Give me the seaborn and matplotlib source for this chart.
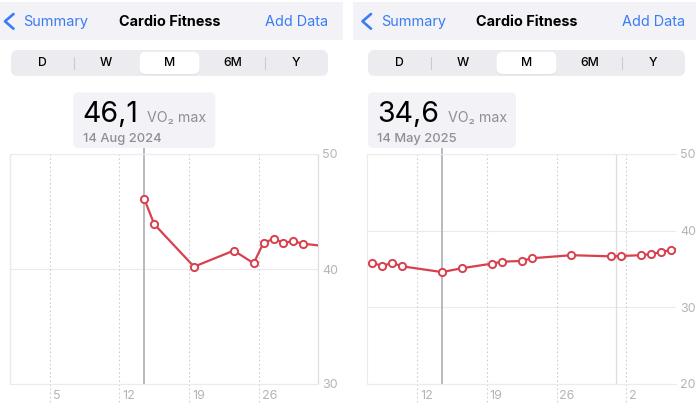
import numpy as np
import pandas as pd
import matplotlib
matplotlib.use("Agg")
import matplotlib.pyplot as plt
import matplotlib.dates as mdates
from matplotlib.patches import FancyBboxPatch
from matplotlib.textpath import TextToPath
from matplotlib.font_manager import FontProperties
import seaborn as sns

# ---------------- data ----------------
aug_dates = ["2024-08-14", "2024-08-15", "2024-08-19", "2024-08-23", "2024-08-25",
             "2024-08-26", "2024-08-27", "2024-08-28", "2024-08-29", "2024-08-30",
             "2024-09-01"]
aug_vo2 = [46.1, 43.9, 40.2, 41.6, 40.5, 42.3, 42.6, 42.3, 42.4, 42.2, 42.0]

may_dates = ["2025-05-07", "2025-05-08", "2025-05-09", "2025-05-10", "2025-05-14",
             "2025-05-16", "2025-05-19", "2025-05-20", "2025-05-22", "2025-05-23",
             "2025-05-27", "2025-05-31", "2025-06-01", "2025-06-03", "2025-06-04",
             "2025-06-05", "2025-06-06", "2025-06-07"]
may_vo2 = [35.8, 35.4, 35.8, 35.35, 34.6, 35.1, 35.7, 35.95, 36.05, 36.4,
           36.8, 36.65, 36.7, 36.8, 36.95, 37.2, 37.5, 37.7]

aug_window = ["2024-08-01", "2024-09-01"]
may_window = ["2025-05-07", "2025-06-07"]
aug_tick_dates = ["2024-08-05", "2024-08-12", "2024-08-19", "2024-08-26"]
aug_tick_labels = ["5", "12", "19", "26"]
may_tick_dates = ["2025-05-12", "2025-05-19", "2025-05-26", "2025-06-02"]
may_tick_labels = ["12", "19", "26", "2"]
aug_yticks = [30, 40, 50]
may_yticks = [20, 30, 40, 50]
aug_month_starts = ["2024-08-01", "2024-09-01"]
may_month_starts = ["2025-06-01"]

aug_selected = "2024-08-14"
aug_value_text = "46,1"
aug_date_text = "14 Aug 2024"
may_selected = "2025-05-14"
may_value_text = "34,6"
may_date_text = "14 May 2025"

segments = ["D", "W", "M", "6M", "Y"]
selected_segment = "M"
title_text = "Cardio Fitness"
back_text = "Summary"
action_text = "Add Data"
unit_text = "VO₂ max"

# ---------------- style ----------------
sns.set_theme(style="white")
UNIT_FAMILY = ["Inter", "DejaVu Sans"]
plt.rcParams["font.family"] = "Inter"

RED = "#d8404e"
BLUE = "#3a7cf3"
GRAY_TXT = "#8e8e93"
TICK_TXT = "#b4b4b9"
GRID = "#ebebee"
DOT = "#cfcfd5"
MONTH = "#dcdce1"
SEL = "#b3b3bd"
HEADER_BG = "#f2f2f7"
SEG_BG = "#ececf0"

W, H = 696, 412
fig = plt.figure(figsize=(W / 100, H / 100), dpi=100)
fig.patch.set_facecolor("white")

bg = fig.add_axes([0, 0, 1, 1])
bg.set_xlim(0, W)
bg.set_ylim(H, 0)
bg.axis("off")
bg.set_zorder(0)

_ttp = TextToPath()


def text_width_px(s, size, family, weight="normal"):
    fp = FontProperties(family=family, size=size, weight=weight)
    w, _, _ = _ttp.get_text_width_height_descent(s, fp, ismath=False)
    return w * 100 / 72


def panel(left_px, width_px, dates, vals, window, tick_dates, tick_labels, yticks,
          month_starts, selected):
    top_px, bot_px = 154, 384
    ax = fig.add_axes([left_px / W, (H - bot_px) / H, width_px / W, (bot_px - top_px) / H])
    ax.set_facecolor("none")
    ax.set_zorder(2)
    x = pd.to_datetime(dates) + pd.Timedelta(hours=12)
    df = pd.DataFrame({"date": x, "vo2": vals})
    sns.lineplot(data=df, x="date", y="vo2", ax=ax, color=RED, lw=1.6,
                 marker="o", markersize=5.2, markerfacecolor="white",
                 markeredgecolor=RED, markeredgewidth=1.4, zorder=5)
    ax.set_xlim(pd.Timestamp(window[0]), pd.Timestamp(window[1]))
    ax.set_ylim(yticks[0], yticks[-1])
    ax.set_xlabel("")
    ax.set_ylabel("")
    ax.set_yticks(yticks)
    ax.yaxis.tick_right()
    ax.grid(axis="y", color=GRID, lw=0.8, ls="-")
    ax.grid(axis="x", visible=False)
    for side in ["left", "top", "bottom"]:
        ax.spines[side].set_color(GRID)
        ax.spines[side].set_linewidth(0.8)
    ax.spines["right"].set_visible(False)
    ax.tick_params(axis="y", length=0, pad=3, labelsize=9, labelcolor=TICK_TXT)
    # day labels sit just right of their (midnight) gridline
    tks = pd.to_datetime(tick_dates)
    ax.set_xticks(tks + pd.Timedelta(hours=7), tick_labels, ha="left")
    ax.tick_params(axis="x", length=0, pad=4, labelsize=9, labelcolor=TICK_TXT)
    xt = ax.get_xaxis_transform()
    ax.vlines(tks, -18 / 230, 1, transform=xt, colors=DOT, lw=0.8,
              linestyles=(0, (1.5, 2.2)), clip_on=False, zorder=1)
    ax.vlines(pd.to_datetime(month_starts), 0, 1, transform=xt, colors=MONTH,
              lw=0.9, clip_on=False, zorder=1)
    sel_x = pd.Timestamp(selected) + pd.Timedelta(hours=12)
    ax.vlines([sel_x], 0, (bot_px - 148) / 230, transform=xt, colors=SEL, lw=1.3,
              clip_on=False, zorder=2)
    return ax, sel_x


def chrome(hx0, hx1, sx0, sx1, chev_x, back_x, title_cx, action_rx):
    bg.add_patch(FancyBboxPatch((hx0, 2), hx1 - hx0, 38, boxstyle="square,pad=0",
                                fc=HEADER_BG, ec="none"))
    bg.plot([chev_x + 9.5, chev_x + 1, chev_x + 9.5], [14, 21.3, 28.7], color=BLUE,
            lw=1.9, solid_capstyle="round", solid_joinstyle="round")
    bg.text(back_x, 21.5, back_text, color=BLUE, fontsize=10.4, ha="left", va="center")
    bg.text(title_cx, 21.5, title_text, color="black", fontsize=10.4, fontweight="bold",
            ha="center", va="center")
    bg.text(action_rx, 21.5, action_text, color=BLUE, fontsize=10.4, ha="right",
            va="center")
    bg.add_patch(FancyBboxPatch((sx0, 50), sx1 - sx0, 26,
                                boxstyle="round,pad=0,rounding_size=7",
                                fc=SEG_BG, ec="none"))
    segw = (sx1 - sx0) / len(segments)
    sel_i = segments.index(selected_segment)
    for i, s in enumerate(segments):
        cx = sx0 + segw * (i + 0.5)
        if i == sel_i:
            bg.add_patch(FancyBboxPatch((sx0 + segw * i + 1.8, 52.6), segw - 3.6, 22.4,
                                        boxstyle="round,pad=0,rounding_size=6",
                                        fc="#d9d9de", ec="none", alpha=0.6))
            bg.add_patch(FancyBboxPatch((sx0 + segw * i + 1.8, 52), segw - 3.6, 22,
                                        boxstyle="round,pad=0,rounding_size=6",
                                        fc="white", ec="none"))
        bg.text(cx, 63, s, color="black", fontsize=8.8, fontweight="medium",
                ha="center", va="center")
    for i in range(len(segments) - 1):
        if i != sel_i and i + 1 != sel_i:
            xx = sx0 + segw * (i + 1)
            bg.plot([xx, xx], [56.7, 69.3], color="#c9c9ce", lw=0.8)


def callout(ax, sel_x, ymin, value_text, date_text):
    cx = ax.transData.transform((mdates.date2num(sel_x), ymin))[0]
    wb = text_width_px(value_text, 20.5, "Inter")
    wu = text_width_px(unit_text, 10.2, UNIT_FAMILY)
    gap, pad = 8.5, 9.3
    boxw = wb + gap + wu + 2 * pad
    bx0 = cx - boxw / 2
    bg.add_patch(FancyBboxPatch((bx0, 92.5), boxw, 55.5,
                                boxstyle="round,pad=0,rounding_size=5",
                                fc=HEADER_BG, ec="none", zorder=2))
    bg.text(bx0 + pad, 121.5, value_text, fontsize=20.5, color="black",
            ha="left", va="baseline", zorder=3)
    bg.text(bx0 + pad + wb + gap, 121.5, unit_text, fontsize=10.2, color=GRAY_TXT,
            family=UNIT_FAMILY, ha="left", va="baseline", zorder=3)
    bg.text(bx0 + pad, 142.3, date_text, fontsize=9.3, color=GRAY_TXT,
            fontweight="medium", ha="left", va="baseline", zorder=3)


ax1, sel1 = panel(10, 308.3, aug_dates, aug_vo2, aug_window, aug_tick_dates,
                  aug_tick_labels, aug_yticks, aug_month_starts, aug_selected)
ax2, sel2 = panel(367.3, 308.7, may_dates, may_vo2, may_window, may_tick_dates,
                  may_tick_labels, may_yticks, may_month_starts, may_selected)

chrome(0, 343, 11, 328, 4, 23.3, 169.7, 328.3)
chrome(353, 696, 368, 685, 361.5, 380.7, 526.7, 685.3)

callout(ax1, sel1, aug_yticks[0], aug_value_text, aug_date_text)
callout(ax2, sel2, may_yticks[0], may_value_text, may_date_text)

fig.canvas.draw()
fig.savefig("out.png", dpi=100)
